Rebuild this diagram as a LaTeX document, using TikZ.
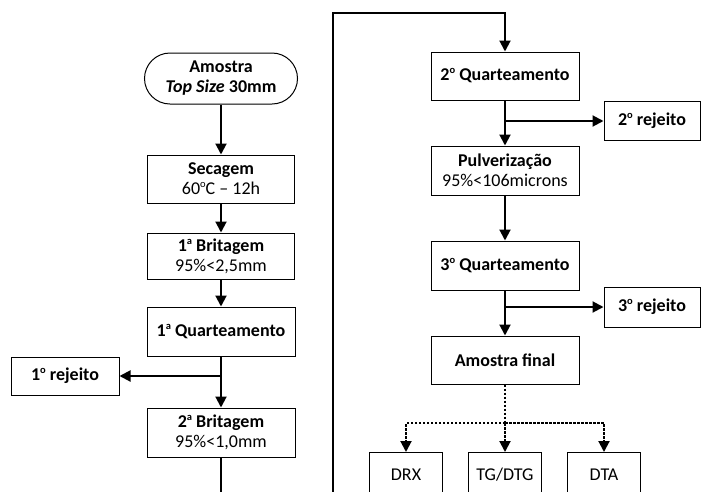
\documentclass[tikz,border=0pt]{standalone}
\usepackage{fontspec}
\setmainfont{Carlito}
\usetikzlibrary{arrows.meta,shapes.misc}
% small raised letter for ordinals and degrees
\newcommand\upl[1]{\raisebox{0.8ex}{\fontsize{10.5}{10.5}\selectfont #1}}
\begin{document}
\begin{tikzpicture}[x=1pt,y=-1pt,
  every node/.style={font=\fontsize{18}{20}\selectfont, align=center, inner sep=0pt},
  box/.style={draw, line width=1pt, fill=white, minimum width=148pt, minimum height=48pt},
  rej/.style={draw, line width=1pt, fill=white, minimum width=96pt, minimum height=39pt},
  ana/.style={draw, line width=1pt, fill=white, minimum width=73pt, minimum height=44pt, anchor=north},
  term/.style={draw, line width=1pt, fill=white, rounded rectangle, minimum width=153pt, minimum height=51pt},
  flow/.style={line width=2pt, -{Triangle[length=11pt,width=11pt]}},
  dots/.style={line width=2pt, dash pattern=on 2.5pt off 1.5pt},
  dotarrow/.style={dots, -{Triangle[length=11pt,width=11pt]}}
]
\useasboundingbox (0,0) rectangle (702,491);
\clip (0,0) rectangle (702,491);

% left column
\node[term] (am) at (221,78.5) {\textbf{Amostra}\\\textbf{\textit{Top Size} 30mm}};
\node[box, minimum width=147pt] (sec) at (221,179) {\textbf{Secagem}\\60\upl{o}C -- 12h};
\node[box, minimum width=147pt, minimum height=46pt] (b1) at (221,256) {\textbf{1\upl{a} Britagem}\\95\%<2,5mm};
\node[box, minimum height=49pt] (q1) at (221,331.5) {\textbf{1\upl{a} Quarteamento}};
\node[box, minimum width=108pt, minimum height=38pt] (r1) at (65,376) {\textbf{1\upl{o} rejeito}};
\node[box, minimum height=49pt] (b2) at (221,432.5) {\textbf{2\upl{a} Britagem}\\95\%<1,0mm};

% right column
\node[box] (q2) at (505,76) {\textbf{2\upl{o} Quarteamento}};
\node[rej] (r2) at (652,121) {\textbf{2\upl{o} rejeito}};
\node[box, minimum height=49pt] (pu) at (505,170.5) {\textbf{Pulverização}\\95\%<106microns};
\node[box, minimum height=49pt] (q3) at (505,265.5) {\textbf{3\upl{o} Quarteamento}};
\node[rej, minimum height=40pt] (r3) at (652,307) {\textbf{3\upl{o} rejeito}};
\node[box] (af) at (505,360) {\textbf{Amostra final}};
\node[ana] (drx) at (406,452) {DRX};
\node[ana] (tg) at (505,452) {TG/DTG};
\node[ana] (dta) at (604,452) {DTA};

% main flow, left column
\draw[flow] (am) -- (sec);
\draw[flow] (sec) -- (b1);
\draw[flow] (b1) -- (q1);
\draw[flow] (q1) -- (b2);
\draw[flow] (q1.south |- r1.east) -- (r1.east);

% carry-over from the left column to the right one
\coordinate (lowL) at (221,530);
\coordinate (lowR) at (333,530);
\coordinate (topR) at (333,13);
\draw[flow] (b2.south) -- (lowL) -- (lowR) -- (topR) -| (q2.north);

% main flow, right column
\draw[flow] (q2) -- (pu);
\draw[flow] (q2.south |- r2.west) -- (r2.west);
\draw[flow] (pu) -- (q3);
\draw[flow] (q3) -- (af);
\draw[flow] (q3.south |- r3.west) -- (r3.west);

% analyses
\coordinate (split) at (505,423);
\draw[dots] (af.south) -- (split);
\draw[dotarrow] (split) -| (drx.north);
\draw[dotarrow] (split) -| (tg.north);
\draw[dotarrow] (split) -| (dta.north);
\end{tikzpicture}
\end{document}
